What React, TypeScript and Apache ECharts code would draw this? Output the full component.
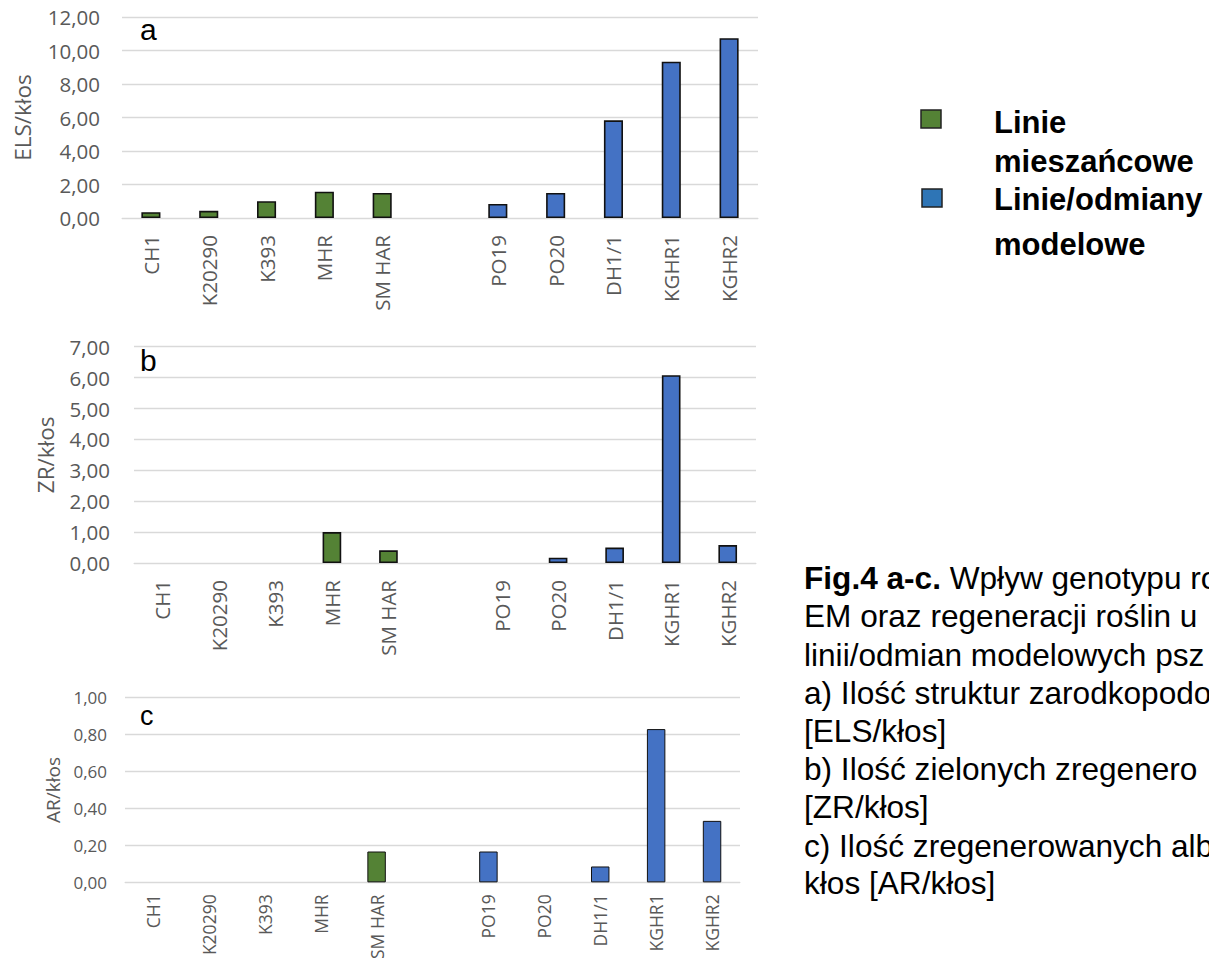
import React, { useEffect, useRef } from "react";
import * as echarts from "echarts";

// ---- data ----
const hybridLines = ["CH1", "K20290", "K393", "MHR", "SM HAR"];
const modelLines = ["PO19", "PO20", "DH1/1", "KGHR1", "KGHR2"];

const elsHybrid = [0.35, 0.43, 1.0, 1.57, 1.5];
const elsModel = [0.84, 1.5, 5.83, 9.33, 10.73];

const zrHybrid = [0, 0, 0, 1.0, 0.41];
const zrModel = [0, 0.17, 0.5, 6.08, 0.58];

const arHybrid = [0, 0, 0, 0, 0.167];
const arModel = [0.167, 0, 0.086, 0.83, 0.333];

const elsAxis = { max: 12, interval: 2, name: "ELS/kłos" };
const zrAxis = { max: 7, interval: 1, name: "ZR/kłos" };
const arAxis = { max: 1, interval: 0.2, name: "AR/kłos" };

const legendLabels = ["Linie", "mieszańcowe", "Linie/odmiany", "modelowe"];
const captionLines = [
  "{b|Fig.4 a-c.} Wpływ genotypu ro",
  "EM oraz regeneracji roślin u",
  "linii/odmian modelowych psz",
  "a) Ilość struktur zarodkopodo",
  "[ELS/kłos]",
  "b) Ilość zielonych zregenero",
  "[ZR/kłos]",
  "c) Ilość zregenerowanych alb",
  "kłos [AR/kłos]",
];

const GREEN = "#548235";
const BLUE = "#4472C4";
const TICK = "#595959";
const GRID = "#d9d9d9";
const FONT = '"Open Sans", "DejaVu Sans", sans-serif';
const SERIF_FREE = '"Liberation Sans", Arial, sans-serif';

const categories = [...hybridLines, "", ...modelLines];
const fmt = (v: number) => v.toFixed(2).replace(".", ",");
const nz = (v: number) => (v === 0 ? null : v);

export default function App() {
  const ref = useRef<HTMLDivElement>(null);
  useEffect(() => {
    if (!ref.current) return;
    const chart = echarts.init(ref.current, null, { renderer: "svg" });

    const panels = [
      { top: 17, height: 201, left: 122, width: 636, axis: elsAxis, h: elsHybrid, m: elsModel, fs: 20.5, xfs: 20.5, nfs: 22.5, nameGap: 88, yMargin: 22, xMargin: 17, bw: 1.6 },
      { top: 346.7, height: 216.3, left: 134, width: 622, axis: zrAxis, h: zrHybrid, m: zrModel, fs: 20.5, xfs: 20.5, nfs: 22.5, nameGap: 77, yMargin: 24, xMargin: 17, bw: 1.6 },
      { top: 697.7, height: 190, left: 125, width: 615, axis: arAxis, h: arHybrid, m: arModel, fs: 17, xfs: 17.5, nfs: 19, nameGap: 60, yMargin: 18, xMargin: 12, bw: 1 },
    ];

    const grid = panels.map((p) => ({ left: p.left, top: p.top, width: p.width, height: p.height, containLabel: false }));
    const xAxis = panels.map((p, i) => ({
      type: "category",
      gridIndex: i,
      data: categories,
      axisLine: { show: true, lineStyle: { color: GRID, width: 1 } },
      axisTick: { show: false },
      axisLabel: { rotate: 90, color: TICK, fontSize: p.xfs, fontFamily: FONT, margin: p.xMargin, interval: 0 },
    }));
    const yAxis = panels.map((p, i) => ({
      type: "value",
      gridIndex: i,
      min: 0,
      max: p.axis.max,
      interval: p.axis.interval,
      name: p.axis.name,
      nameLocation: "middle",
      nameGap: p.nameGap,
      nameTextStyle: { color: TICK, fontSize: p.nfs, fontFamily: FONT },
      axisLine: { show: false },
      axisTick: { show: false },
      splitLine: { lineStyle: { color: GRID, width: 1.3 } },
      axisLabel: { color: TICK, fontSize: p.fs, fontFamily: FONT, margin: p.yMargin, formatter: fmt },
    }));
    const series: any[] = [];
    panels.forEach((p, i) => {
      const green = [...p.h.map(nz), null, ...p.m.map(() => null)];
      const blue = [...p.h.map(() => null), null, ...p.m.map(nz)];
      series.push({
        type: "bar", xAxisIndex: i, yAxisIndex: i, stack: "s" + i, barWidth: "33%", data: green,
        itemStyle: { color: GREEN, borderColor: "#111", borderWidth: p.bw },
      });
      series.push({
        type: "bar", xAxisIndex: i, yAxisIndex: i, stack: "s" + i, barWidth: "33%", data: blue,
        itemStyle: { color: BLUE, borderColor: "#111", borderWidth: p.bw },
      });
    });

    const letters = [
      { t: "a", x: 140, base: 40, fs: 30 },
      { t: "b", x: 140, base: 371, fs: 30 },
      { t: "c", x: 140, base: 725, fs: 27 },
    ];
    const graphic: any[] = [];
    letters.forEach((l) =>
      graphic.push({
        type: "text", x: l.x, y: l.base - 0.34 * l.fs,
        style: { text: l.t, fill: "#000", fontSize: l.fs, fontFamily: SERIF_FREE, textVerticalAlign: "middle" },
      })
    );
    // legend
    graphic.push({ type: "rect", shape: { x: 921, y: 110, width: 20, height: 18 }, style: { fill: GREEN, stroke: "#222", lineWidth: 1.5 } });
    graphic.push({ type: "rect", shape: { x: 922, y: 189, width: 20, height: 18 }, style: { fill: "#2E75B6", stroke: "#222", lineWidth: 1.5 } });
    const legBase = [133, 172, 210, 255];
    legendLabels.forEach((t, i) =>
      graphic.push({
        type: "text", x: 994, y: legBase[i] - 0.34 * 31,
        style: { text: t, fill: "#000", fontSize: 31, fontWeight: "bold", fontFamily: SERIF_FREE, textVerticalAlign: "middle" },
      })
    );
    // caption
    const capFs = 31.6;
    const capBase = [589, 627, 666, 704, 742, 780, 818, 857, 894];
    captionLines.forEach((t, i) =>
      graphic.push({
        type: "text", x: 804, y: capBase[i] - 0.34 * capFs,
        style: {
          text: t, fill: "#000", fontSize: capFs, fontFamily: SERIF_FREE, textVerticalAlign: "middle",
          rich: { b: { fontWeight: "bold", fontSize: capFs, fontFamily: SERIF_FREE, fill: "#000" } },
        },
      })
    );

    chart.setOption({ animation: false, backgroundColor: "#fff", grid, xAxis, yAxis, series, graphic });
    return () => chart.dispose();
  }, []);
  return <div ref={ref} style={{ position: "absolute", left: 0, top: 0, width: 1209, height: 962 }} />;
}
